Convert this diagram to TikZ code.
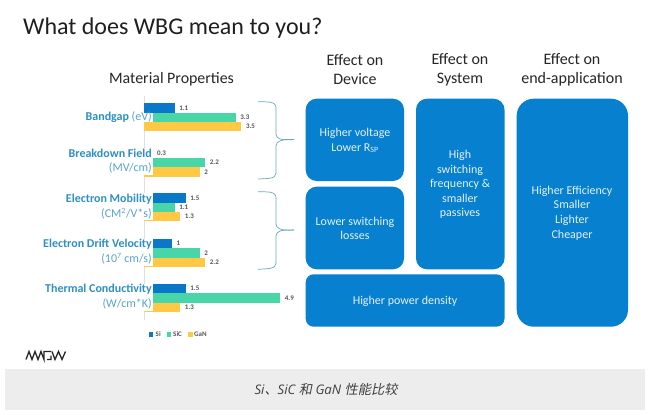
\documentclass[tikz,border=0pt]{standalone}
\usepackage{fontspec}
\setmainfont{Carlito}
\newfontfamily\capfont[ItalicFont=* Italic]{Open Sans}
\newfontfamily\cjk[AutoFakeSlant=0.2]{Noto Sans CJK SC}
\definecolor{boxblue}{HTML}{0780CF}
\definecolor{siblue}{HTML}{0A78C8}
\definecolor{sicgreen}{HTML}{48D6A8}
\definecolor{ganyellow}{HTML}{FFC845}
\definecolor{labelblue}{HTML}{2E8FC4}
\definecolor{unitblue}{HTML}{5AA3CC}
\definecolor{bracecol}{HTML}{6BA8B8}
\definecolor{valgray}{HTML}{555555}
\definecolor{band}{HTML}{EDEDED}
\tikzset{
  bluebox/.style={fill=boxblue,rounded corners=#1,draw=none},
  boxtext/.style={text=white!90!boxblue,align=center,inner sep=0pt,font=\fontsize{12}{14.6}\selectfont},
  header/.style={align=center,inner sep=0pt,font=\fontsize{16}{19}\selectfont,text=black!85},
  sibar/.style={fill=siblue,draw=none},
  sicbar/.style={fill=sicgreen,draw=none},
  ganbar/.style={fill=ganyellow,draw=none},
  val/.style={font=\bfseries\fontsize{7}{8}\selectfont,text=valgray,anchor=west,inner sep=0pt},
  proplabel/.style={font=\fontsize{12}{14.5}\selectfont,anchor=east,inner sep=0pt,text=unitblue},
  bracepath/.style={draw=bracecol,line width=0.7pt},
}
\begin{document}
\begin{tikzpicture}[x=1pt,y=-1pt]
\useasboundingbox (0,0) rectangle (654,415);
\fill[white] (0,0) rectangle (654,415);
% caption band
\fill[band] (5,369) rectangle (645,409.5);
\node[inner sep=0pt,text=black!75,font=\fontsize{13.2}{15}\selectfont] (caption) at (326,389)
  {\capfont\itshape Si\cjk、\capfont\itshape SiC \cjk 和\capfont\itshape{} GaN \cjk 性能比较};
% title
\node[anchor=west,inner sep=0pt,font=\fontsize{24}{30}\selectfont,text=black!88] (title) at (23,28) {What does WBG mean to you?};
\node[inner sep=0pt,font=\fontsize{15.9}{18}\selectfont,text=black!85] (matprop) at (171.5,79.5) {Material Properties};
\node[header] (hdev) at (355,69.5) {Effect on\\Device};
\node[header] (hsys) at (460,69.5) {Effect on\\System};
\node[header] (happ) at (572,69.5) {Effect on\\end-application};
% axis
\draw[black!12,line width=0.5pt] (144,96) -- (144,320);
% bars
\foreach \yt/\a/\b/\c in {103.3/1.1/3.3/3.5,148.5/0.3/2.2/2,193.3/1.5/1.1/1.3,239/1/2/2.2,284/1.5/4.9/1.3}{
  \fill[sibar] (144,\yt) rectangle ({144+27.8*\a},\yt+9.4);
  \fill[sicbar] (144,\yt+9.4) rectangle ({144+27.8*\b},\yt+18.8);
  \fill[ganbar] (144,\yt+18.8) rectangle ({144+27.8*\c},\yt+28);
}
% white backing of the labels
\fill[white] (60,113) rectangle (152.5,122);
\fill[white] (60,148) rectangle (152.5,175);
\fill[white] (60,193) rectangle (152.5,220);
\fill[white] (40,239) rectangle (152.5,266);
\fill[white] (40,284) rectangle (152.5,311);
% values
\foreach \yt/\a/\b/\c in {103.3/1.1/3.3/3.5,148.5/0.3/2.2/2,193.3/1.5/1.1/1.3,239/1/2/2.2,284/1.5/4.9/1.3}{
  \node[val] at ({144+27.8*\a+4.5},\yt+4.6) {\a};
  \node[val] at ({144+27.8*\b+4.5},\yt+14.2) {\b};
  \node[val] at ({144+27.8*\c+4.5},\yt+23.4) {\c};
}
\node[proplabel] (lband) at (152,117) {\textcolor{labelblue}{\textbf{Bandgap}} (eV)};
\node[proplabel] (lbreak1) at (152,153.5) {\textcolor{labelblue}{\textbf{Breakdown Field}}};
\node[proplabel] (lbreak2) at (152,168) {(MV/cm)};
\node[proplabel] (lmob1) at (152,199) {\textcolor{labelblue}{\textbf{Electron Mobility}}};
\node[proplabel] (lmob2) at (152,213.5) {(CM\textsuperscript{2}/V*s)};
\node[proplabel] (ldrift1) at (152,244.5) {\textcolor{labelblue}{\textbf{Electron Drift Velocity}}};
\node[proplabel] (ldrift2) at (152,259) {(10\textsuperscript{7} cm/s)};
\node[proplabel] (ltherm1) at (152,289.5) {\textcolor{labelblue}{\textbf{Thermal Conductivity}}};
\node[proplabel] (ltherm2) at (152,304) {(W/cm*K)};
% legend
\fill[sibar] (149,332) rectangle (153,336.5);
\node[val] at (155.5,334.3) {Si};
\fill[sicbar] (166.5,332) rectangle (170.5,336.5);
\node[val] at (173,334.3) {SiC};
\fill[ganbar] (188,332) rectangle (192.5,336.5);
\node[val] at (194,334.3) {GaN};
% braces
\draw[bracepath] (258,101.7) .. controls (268,102) and (276,101) .. (276,108) -- (276,134)
  .. controls (276,138) and (280,141) .. (294,139.5);
\draw[bracepath] (294,139.5) .. controls (282,139) and (276,141) .. (276,146) -- (276,173)
  .. controls (276,179) and (268,178.5) .. (258,179);
\draw[bracepath] (258,191.7) .. controls (268,192) and (276,191) .. (276,198) -- (276,224)
  .. controls (276,228) and (280,231) .. (294,230);
\draw[bracepath] (294,230) .. controls (282,229.5) and (276,231) .. (276,236) -- (276,263)
  .. controls (276,269) and (268,268.7) .. (258,269.3);
% blue boxes
\fill[bluebox=11pt] (305.7,98.7) rectangle (404,181);
\fill[bluebox=11pt] (305.7,186.7) rectangle (404,269.3);
\fill[bluebox=11pt] (416,98.7) rectangle (504.5,269.3);
\fill[bluebox=8pt] (305.7,274.3) rectangle (504.5,326.7);
\fill[bluebox=17pt] (516.7,98.7) rectangle (628,326.7);
\node[boxtext] (tdev) at (355,140.5) {Higher voltage\\Lower R\textsubscript{SP}};
\node[boxtext] (tloss) at (355,228.5) {Lower switching\\losses};
\node[boxtext] (tsys) at (460,184.5) {High\\switching\\frequency \&\\smaller\\passives};
\node[boxtext] (tpow) at (405,301) {Higher power density};
\node[boxtext] (tapp) at (572,213) {Higher Efficiency\\Smaller\\Lighter\\Cheaper};
% logo
\draw[black!85,line width=1.3pt,line join=miter] (26,359.5) -- (29,351.5) -- (32,359.5) -- (35,351.5) -- (38,359.5) -- (41,351.5) -- (44,359.5) -- (44,351.5) -- (51,351.5) (47,359.5) -- (51,359.5) -- (51,355.5) (52,351.5) -- (55,359.5) -- (58.5,351.5) -- (62,359.5) -- (65.5,351.5);
\end{tikzpicture}
\end{document}
